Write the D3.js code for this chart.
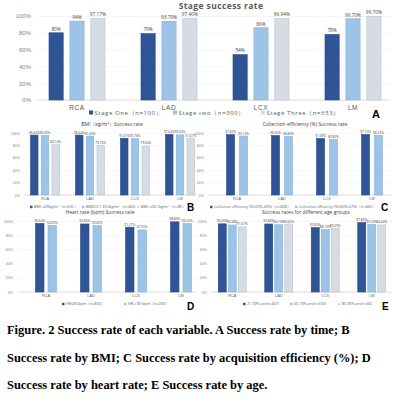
<!DOCTYPE html>
<html>
<head>
<meta charset="utf-8">
<script src="https://cdn.jsdelivr.net/npm/d3@7"></script>
<style>
  body { margin: 0; background: #fff; }
  svg { display: block; font-family: "Open Sans", "DejaVu Sans", sans-serif; }
</style>
</head>
<body>
<svg id="fig" width="393" height="400"></svg>
<script>
// ---- data ----
const vessels = ["RCA", "LAD", "LCX", "LM"];
const yTicks = [0, 20, 40, 60, 80, 100];

const stageNames = ["Stage One（n=100）", "Stage two（n=300）", "Stage Three（n=653）"];
const stageOne = [80, 79, 54, 78];
const stageTwo = [94, 93.7, 86, 96.7];
const stageThree = [97.17, 97.4, 96.94, 99.7];

const bmiNames = ["BMI: ≤23kg/m²（n=505）", "BMI(23.1-30.0kg/m²（n=460）", "BMI: ≥30.1kg/m²（n=88）"];
const bmiLow = [96.64, 96.64, 91.41, 97.64];
const bmiMid = [96.00, 95.00, 90.76, 96.92];
const bmiHigh = [82.14, 79.76, 79.04, 91.67];

const effNames = ["Collection efficiency (%)(20%-45%)（n=608）", "Collection efficiency (%)(45%-67%)（n=445）"];
const effLow = [97.30, 96.00, 91.00, 97.70];
const effHigh = [95.12, 94.80, 89.80, 96.22];

const hrNames = ["HR≤80 bpm（n=853）", "HR＞80 bpm（n=200）"];
const hrLow = [96.54, 95.83, 91.27, 98.83];
const hrHigh = [94.00, 93.60, 87.50, 96.50];

const ageNames = ["21-59Years(n=467)", "60-79Years(n=550)", "80-95Years(n=36)"];
const ageYoung = [96.00, 95.83, 90.60, 97.86];
const ageMid = [94.38, 94.74, 88.19, 95.33];
const ageOld = [91.67, 95.65, 89.29, 94.44];

const captionLines = [
  "Figure. 2 Success rate of each variable. A Success rate by time; B",
  "Success rate by BMI; C Success rate by acquisition efficiency (%); D",
  "Success rate by heart rate; E Success rate by age."
];

const colors = ["#2F5597", "#9DC3E6", "#D6DCE4"];
const strokes = ["#264a85", "#86b2dc", "#bcc4cf"];

const svg = d3.select("#fig");

function panel(cfg) {
  const g = svg.append("g");
  const x = d3.scaleBand().domain(vessels).range(cfg.xRange);
  const xs = d3.scaleBand().domain(d3.range(cfg.series.length)).range([0, cfg.groupW]).paddingInner(cfg.pad);
  const y = d3.scaleLinear().domain([0, 100]).range(cfg.yRange);

  // y axis with gridlines
  const ax = g.append("g")
    .attr("transform", `translate(${cfg.gridX[0]},0)`)
    .call(d3.axisLeft(y).tickValues(yTicks).tickFormat(d => d + "%")
      .tickSize(-(cfg.gridX[1] - cfg.gridX[0])).tickPadding(cfg.tickPad));
  ax.select(".domain").remove();
  ax.selectAll("line").attr("stroke", "#ececec").attr("stroke-width", 0.5);
  ax.selectAll("text").attr("fill", "#7f7f7f").style("font-size", cfg.tickFont + "px");
  g.append("line")
    .attr("x1", cfg.gridX[0]).attr("x2", cfg.gridX[1])
    .attr("y1", y(0)).attr("y2", y(0))
    .attr("stroke", "#d0d0d0").attr("stroke-width", 0.6);

  // x axis labels
  const bx = g.append("g")
    .attr("transform", `translate(0,${y(0)})`)
    .call(d3.axisBottom(x).tickSize(0).tickPadding(cfg.catPad));
  bx.select(".domain").remove();
  bx.selectAll("text").attr("fill", "#595959").style("font-size", cfg.catFont + "px")
    .style("letter-spacing", cfg.catSpacing || 0);

  // bars
  cfg.series.forEach((vals, s) => {
    const off = (c) => x(c) + x.bandwidth() / 2 - cfg.groupW / 2 + xs(s);
    g.append("g").selectAll("rect").data(vessels).join("rect")
      .attr("x", c => off(c))
      .attr("y", (c, i) => y(vals[i]))
      .attr("width", xs.bandwidth())
      .attr("height", (c, i) => y(0) - y(vals[i]))
      .attr("fill", colors[s])
      .attr("stroke", strokes[s]).attr("stroke-width", 0.6);
    g.append("g").selectAll("text").data(vessels).join("text")
      .attr("x", c => off(c) + xs.bandwidth() / 2)
      .attr("y", (c, i) => y(vals[i]) - cfg.valGap)
      .attr("text-anchor", "middle")
      .attr("fill", "#404040")
      .style("font-size", cfg.valFont + "px")
      .text((c, i) => cfg.fmt(vals[i]));
  });

  // title
  g.append("text")
    .attr("x", cfg.title[1]).attr("y", cfg.title[2])
    .attr("text-anchor", "middle")
    .attr("fill", cfg.titleColor || "#404040")
    .style("font-size", cfg.titleFont + "px")
    .style("font-weight", cfg.titleBold ? "bold" : "normal")
    .style("letter-spacing", cfg.titleSpacing || 0)
    .text(cfg.title[0]);

  // legend
  cfg.names.forEach((name, s) => {
    const lx = cfg.legendX[s], ly = cfg.legendY;
    g.append("rect")
      .attr("x", lx).attr("y", ly - cfg.legSq / 2)
      .attr("width", cfg.legSq).attr("height", cfg.legSq)
      .attr("fill", colors[s]);
    g.append("text")
      .attr("x", lx + cfg.legSq + 1.5).attr("y", ly)
      .attr("dy", "0.35em")
      .attr("fill", "#595959")
      .style("font-size", cfg.legFont + "px")
      .style("letter-spacing", cfg.legSpacing || 0)
      .text(name);
  });

  // panel letter
  g.append("text")
    .attr("x", cfg.letter[1]).attr("y", cfg.letter[2])
    .attr("fill", "#000")
    .style("font-size", cfg.letterFont + "px")
    .style("font-weight", "bold")
    .style("font-family", "Liberation Sans, Arial, sans-serif")
    .text(cfg.letter[0]);
}

const fmtA = v => (Number.isInteger(v) ? v : v.toFixed(2)) + "%";
const fmt2 = v => v.toFixed(2) + "%";

// A
panel({
  series: [stageOne, stageTwo, stageThree], names: stageNames,
  xRange: [31, 399], groupW: 56, pad: 0.32, yRange: [100, 16], gridX: [37, 391],
  tickPad: 6, tickFont: 6, catPad: 5.5, catFont: 6.5, catSpacing: "0.6px",
  valFont: 4.8, valGap: 2.2, fmt: fmtA,
  title: ["Stage success rate", 221, 9], titleFont: 8.5, titleBold: true, titleColor: "#595959", titleSpacing: "0.4px",
  legendX: [89, 173, 261], legendY: 112.5, legSq: 4, legFont: 6, legSpacing: "0.6px",
  letter: ["A", 372, 118], letterFont: 11
});

// B
panel({
  series: [bmiLow, bmiMid, bmiHigh], names: bmiNames,
  xRange: [22.5, 202.5], groupW: 29, pad: 0.3, yRange: [195, 133], gridX: [24, 197],
  tickPad: 4, tickFont: 3.6, catPad: 2.5, catFont: 3.8,
  valFont: 3.2, valGap: 1.5, fmt: fmt2,
  title: ["BMI（kg/m²）Success rate", 112, 126], titleFont: 5,
  legendX: [30, 82, 137], legendY: 207, legSq: 2.5, legFont: 3.7,
  letter: ["B", 187, 211], letterFont: 10
});

// C
panel({
  series: [effLow, effHigh], names: effNames,
  xRange: [214.5, 394.5], groupW: 21, pad: 0.38, yRange: [195, 133], gridX: [208, 392],
  tickPad: 4, tickFont: 3.6, catPad: 2.5, catFont: 3.8,
  valFont: 3.2, valGap: 1.5, fmt: fmt2,
  title: ["Collection efficiency (%) Success rate", 305, 126], titleFont: 5,
  legendX: [210, 295], legendY: 207, legSq: 2.5, legFont: 3.7,
  letter: ["C", 381, 211], letterFont: 10
});

// D
panel({
  series: [hrLow, hrHigh], names: hrNames,
  xRange: [23.5, 203.5], groupW: 21, pad: 0.32, yRange: [292, 221], gridX: [17, 196],
  tickPad: 4, tickFont: 3.6, catPad: 2.5, catFont: 3.8,
  valFont: 3.2, valGap: 1.5, fmt: fmt2,
  title: ["Heart rate (bpm) Success rate", 100, 214], titleFont: 5,
  legendX: [62, 124], legendY: 304, legSq: 2.5, legFont: 3.7,
  letter: ["D", 187, 310], letterFont: 10
});

// E
panel({
  series: [ageYoung, ageMid, ageOld], names: ageNames,
  xRange: [209, 395], groupW: 28, pad: 0.2, yRange: [292, 221], gridX: [211, 392],
  tickPad: 4, tickFont: 3.6, catPad: 2.5, catFont: 3.8,
  valFont: 3.2, valGap: 1.5, fmt: fmt2,
  title: ["Success rates for different age groups", 306, 214], titleFont: 5,
  legendX: [243, 290, 338], legendY: 304, legSq: 2.5, legFont: 3.7,
  letter: ["E", 382, 310], letterFont: 10
});

// caption
svg.append("g").selectAll("text").data(captionLines).join("text")
  .attr("x", 7)
  .attr("y", (d, i) => 334 + i * 27.5)
  .style("font-family", "Liberation Serif, Times New Roman, serif")
  .style("font-weight", "bold")
  .style("font-size", "12.45px")
  .attr("fill", "#000")
  .text(d => d);
</script>
</body>
</html>
